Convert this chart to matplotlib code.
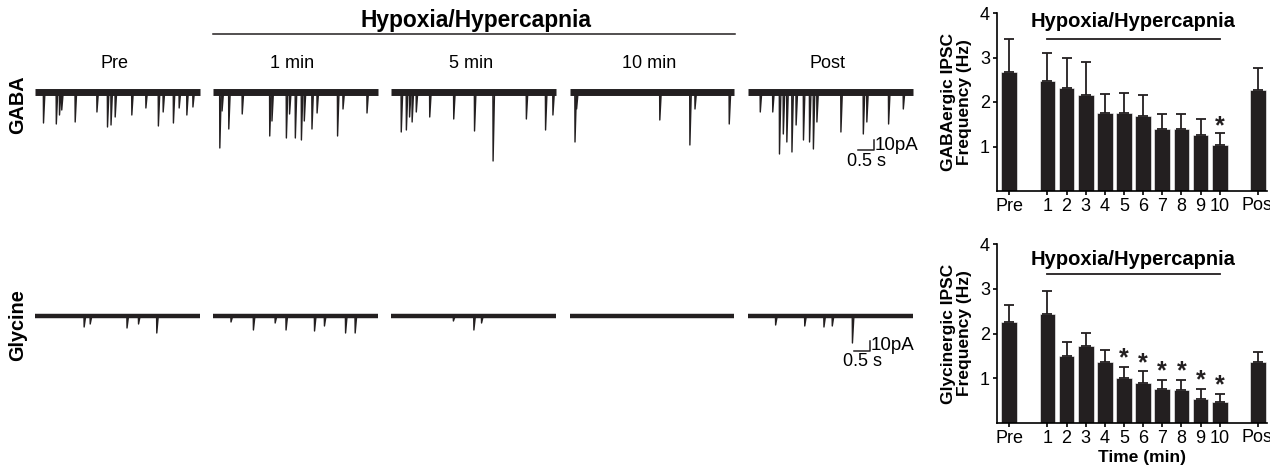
"""Hypoxia/hypercapnia: example IPSC traces (GABA / glycine) + frequency bars."""

import matplotlib
matplotlib.use("Agg")
import matplotlib.pyplot as plt  # noqa: E402
from matplotlib.transforms import Bbox, TransformedBbox  # noqa: E402

plt.rcParams.update({
    "font.family": ["Liberation Sans", "DejaVu Sans"],
    "font.size": 13,
    "axes.linewidth": 1.2,
    "xtick.major.width": 1.2, "ytick.major.width": 1.2,
    "xtick.major.size": 3, "ytick.major.size": 3,
})

INK = "#231f20"

# ---------- traces: event times (s, within each 5 s sweep) and amplitudes (pA) ----------
CONDITIONS = ["Pre", "1 min", "5 min", "10 min", "Post"]

GABA_T = [
    [0.26, 0.66, 0.76, 0.83, 1.25, 1.93, 2.26, 2.37, 2.50, 3.02, 3.46, 3.85,
     4.00, 4.32, 4.50, 4.74, 4.93],
    [0.20, 0.27, 0.48, 0.90, 1.76, 1.83, 2.28, 2.38, 2.56, 2.75, 2.84, 3.08,
     3.24, 3.88, 4.05, 4.80],
    [0.30, 0.46, 0.56, 0.64, 0.77, 1.19, 1.94, 2.59, 3.17, 4.21, 4.81, 5.04],
    [0.16, 0.21, 2.81, 3.75, 3.91, 4.98],
    [0.38, 0.77, 0.98, 1.10, 1.21, 1.37, 1.50, 1.73, 1.92, 2.04, 2.15, 2.90,
     3.60, 3.71, 4.39, 4.85],
]
GABA_A = [
    [31, 32, 23, 18, 30, 20, 35, 33, 25, 23, 16, 34, 20, 31, 16, 23, 15],
    [56, 19, 37, 22, 44, 29, 46, 22, 46, 48, 29, 37, 21, 44, 17, 21],
    [40, 38, 25, 30, 20, 25, 27, 39, 69, 27, 38, 23],
    [50, 17, 28, 53, 17, 32],
    [20, 20, 62, 42, 50, 60, 33, 48, 50, 57, 30, 40, 42, 30, 32, 17],
]
GLY_T = [
    [1.53, 1.72, 2.87, 3.23, 3.80],
    [0.55, 1.25, 1.93, 2.27, 3.16, 3.47, 4.13, 4.43],
    [1.93, 2.57, 2.81],
    [],
    [0.86, 1.77, 2.37, 2.63, 3.26],
]
GLY_A = [
    [11, 8, 12, 8, 17],
    [6, 14, 7, 14, 15, 10, 17, 17],
    [5, 14, 7],
    [],
    [9, 10, 11, 10, 27],
]
SWEEP_S = 5.15

# ---------- IPSC frequency (Hz), mean and SEM ----------
BAR_LABELS = ["Pre", "1", "2", "3", "4", "5", "6", "7", "8", "9", "10", "Post"]
GABA_MEAN = [2.68, 2.47, 2.31, 2.16, 1.75, 1.76, 1.69, 1.39, 1.40, 1.25, 1.03, 2.27]
GABA_SEM = [0.74, 0.64, 0.69, 0.74, 0.43, 0.44, 0.46, 0.34, 0.33, 0.37, 0.27, 0.49]
GABA_SIG = [False] * 10 + [True, False]
GLY_MEAN = [2.25, 2.43, 1.50, 1.72, 1.35, 1.01, 0.90, 0.76, 0.73, 0.54, 0.46, 1.35]
GLY_SEM = [0.39, 0.53, 0.32, 0.29, 0.28, 0.25, 0.25, 0.20, 0.23, 0.22, 0.18, 0.24]
GLY_SIG = [False] * 5 + [True] * 6 + [False]

W, H = 1284, 470
fig = plt.figure(figsize=(W / 100, H / 100), dpi=100)


def px_axes(left, top, width, height):
    return fig.add_axes([left / W, (H - top - height) / H, width / W, height / H])


STEP = 5.57  # gap between sweeps on the page


def traces(ax, times, amps, band_lw, header):
    for i, (ts, am) in enumerate(zip(times, amps)):
        off = i * STEP
        ax.plot([off, off + SWEEP_S], [0, 0], color=INK, lw=band_lw,
                solid_capstyle="butt")
        for t, a in zip(ts, am):
            x = off + t
            ax.plot([x, x + 0.006, x + 0.05], [0, -a, -1], color=INK, lw=1.0)
        if header:
            ax.text(off + SWEEP_S / 2 - 0.1, 28, CONDITIONS[i], ha="center",
                    va="center", fontsize=13, clip_on=False)
    ax.set_xlim(-0.156, 27.97)
    ax.axis("off")


def scalebar(ax, x0, y0):
    ax.plot([x0, x0 + 0.5, x0 + 0.5], [y0, y0, y0 + 10], color=INK, lw=1.1)
    ax.text(x0 + 0.52, y0 + 5, "10pA", ha="left", va="center", fontsize=13.5)
    ax.text(x0 + 0.26, y0 - 11, "0.5 s", ha="center", va="center", fontsize=13)


ax_ga = px_axes(30, 70, 900, 110)
ax_ga.set_ylim(-88, 22)
traces(ax_ga, GABA_T, GABA_A, 5.0, True)
scalebar(ax_ga, 25.72, -58)

ax_gl = px_axes(30, 290, 900, 110)
ax_gl.set_ylim(-84, 26)
traces(ax_gl, GLY_T, GLY_A, 3.2, False)
scalebar(ax_gl, 25.6, -35)

# header over the sweeps
fig.text(476 / W, 1 - 20 / H, "Hypoxia/Hypercapnia", ha="center", va="center",
         fontsize=16.4, fontweight="bold")
fig.add_artist(plt.Line2D([213 / W, 735 / W], [1 - 34 / H] * 2, color=INK, lw=1.1))
fig.text(18 / W, 1 - 105 / H, "GABA", rotation=90, ha="center", va="center",
         fontsize=14.3, fontweight="bold")
fig.text(18 / W, 1 - 325 / H, "Glycine", rotation=90, ha="center", va="center",
         fontsize=14.3, fontweight="bold")

# ---------- bar panels ----------
xpos = [0] + list(range(2, 12)) + [13]


def bars(ax, mean, sem, sig, ylabel, star_gap, line_y, text_y, xlabel=None):
    ax.bar(xpos, mean, width=0.82, color=INK, edgecolor="white", linewidth=0.4,
           zorder=2)
    ax.errorbar(xpos, mean, yerr=[[0] * len(sem), sem], fmt="none", ecolor=INK,
                elinewidth=1.3, capsize=3.5, capthick=1.3, zorder=3)
    for x, m, s, flag in zip(xpos, mean, sem, sig):
        if flag:
            ax.text(x, m + s + star_gap, "*", ha="center", va="center",
                    fontsize=18, fontweight="bold", color=INK)
    ax.plot([2, 11], [line_y, line_y], color=INK, lw=1.3, clip_on=False)
    ax.text(6.5, text_y, "Hypoxia/Hypercapnia", ha="center", va="center",
            fontsize=14.5, fontweight="bold")
    ax.set_xlim(-0.63, 13.47)
    ax.set_ylim(0, 4)
    ax.set_yticks([1, 2, 3, 4])
    ax.set_xticks(xpos, BAR_LABELS[:-1] + [""], fontsize=13)
    ax.tick_params(axis="y", labelsize=13, pad=2)
    ax.tick_params(axis="x", pad=2)
    for sp in ("top", "right"):
        ax.spines[sp].set_visible(False)
    ax.set_ylabel(ylabel, fontsize=12.5, fontweight="bold", linespacing=1.1)
    ax.yaxis.set_label_coords(-0.092, 0.5)
    if xlabel:
        ax.set_xlabel(xlabel, fontsize=12.5, fontweight="bold")
        ax.xaxis.set_label_coords(0.537, -0.155)
    # last label runs off the page edge
    post = ax.text(xpos[-1] + 0.1, -0.036, BAR_LABELS[-1], ha="center", va="top",
                   fontsize=13, transform=ax.get_xaxis_transform())
    post.set_clip_box(TransformedBbox(Bbox([[0, 0], [1270 / W, 1]]),
                                      fig.transFigure))
    post.set_clip_on(True)


ax_b1 = px_axes(997, 13, 270, 178)
bars(ax_b1, GABA_MEAN, GABA_SEM, GABA_SIG, "GABAergic IPSC\nFrequency (Hz)",
     0.15, 3.42, 3.8)

ax_b2 = px_axes(997, 244.3, 270, 178.4)
bars(ax_b2, GLY_MEAN, GLY_SEM, GLY_SIG, "Glycinergic IPSC\nFrequency (Hz)",
     0.19, 3.33, 3.65, xlabel="Time (min)")

fig.savefig("out.png", dpi=100)
